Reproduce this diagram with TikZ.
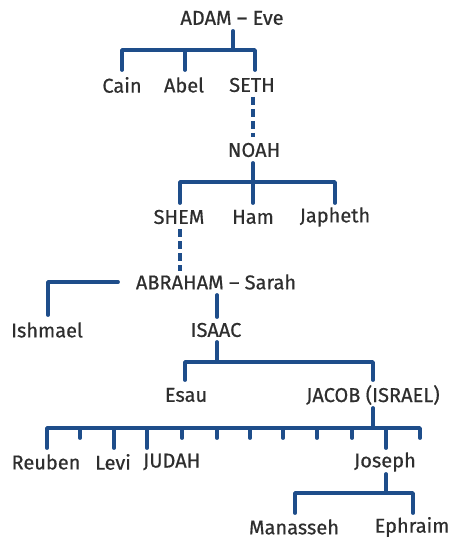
\documentclass[tikz,border=0pt]{standalone}
\usepackage{fontspec}
\setmainfont{Fira Sans}[FakeBold=0.6]
\definecolor{lineblue}{HTML}{1E4D8A}
\definecolor{txt}{HTML}{2E2E2E}
\begin{document}
\begin{tikzpicture}[x=1pt,y=-1pt,
  person/.style={text=txt,font=\fontsize{20}{24}\selectfont,inner sep=0pt,anchor=center},
  link/.style={draw=lineblue,line width=3.8pt,line cap=round,line join=round},
  dlink/.style={link,line cap=butt,dash pattern=on 8pt off 4pt}]
\useasboundingbox (0,0) rectangle (458,540);
% nodes
\node[person] (adam) at (232,18) {ADAM -- Eve};
\node[person] (cain) at (122,85) {Cain};
\node[person] (abel) at (184,85) {Abel};
\node[person] (seth) at (252,85) {SETH};
\node[person] (noah) at (254,150) {NOAH};
\node[person] (shem) at (179,217) {SHEM};
\node[person] (ham) at (253,217) {Ham};
\node[person] (japheth) at (335,217) {Japheth};
\node[person] (abraham) at (216,282) {ABRAHAM -- Sarah};
\node[person] (ishmael) at (47,330) {Ishmael};
\node[person] (isaac) at (216,330) {ISAAC};
\node[person] (esau) at (186,395) {Esau};
\node[person] (jacob) at (373,395) {JACOB (ISRAEL)};
\node[person] (reuben) at (46,462) {Reuben};
\node[person] (levi) at (113,462) {Levi};
\node[person,anchor=west] (judah) at (143,462) {JUDAH};
\node[person] (joseph) at (385,462) {Joseph};
\node[person] (manasseh) at (294,527) {Manasseh};
\node[person] (ephraim) at (412,527) {Ephraim};
% coordinates
\coordinate (a0) at (233,31);
\coordinate (a1) at (233,50);
\coordinate (cainT) at (122,70);
\coordinate (abelT) at (185,70);
\coordinate (sethT) at (255,70);
\draw[link] (a0) -- (a1);
\draw[link] (cainT) -- (122,50) -- (255,50) -- (sethT);
\draw[link] (185,50) -- (abelT);
\draw[dlink] (253,97) -- (253,137);
\draw[link] (253,163) -- (253,182);
\draw[link] (180,203) -- (180,182) -- (335,182) -- (335,203);
\draw[link] (253,182) -- (253,203);
\draw[dlink] (180,229) -- (180,271);
\coordinate (abrW) at (118,282);
\draw[link] (abrW) -- (48,282) -- (48,315);
\draw[link] (217,295) -- (217,317);
\draw[link] (217,342) -- (217,362);
\draw[link] (185,380) -- (185,362) -- (373,362) -- (373,380);
\draw[link] (373,408) -- (373,428);
\draw[link] (47,448) -- (47,428) -- (420,428) -- (420,438);
\foreach \x in {80,182,217,250,283,317,352}{\draw[link] (\x,428) -- (\x,438);}
\foreach \x in {114,147,386}{\draw[link] (\x,428) -- (\x,448);}
\draw[link] (386,474) -- (386,493);
\draw[link] (295,513) -- (295,493) -- (413,493) -- (413,513);
\end{tikzpicture}
\end{document}
